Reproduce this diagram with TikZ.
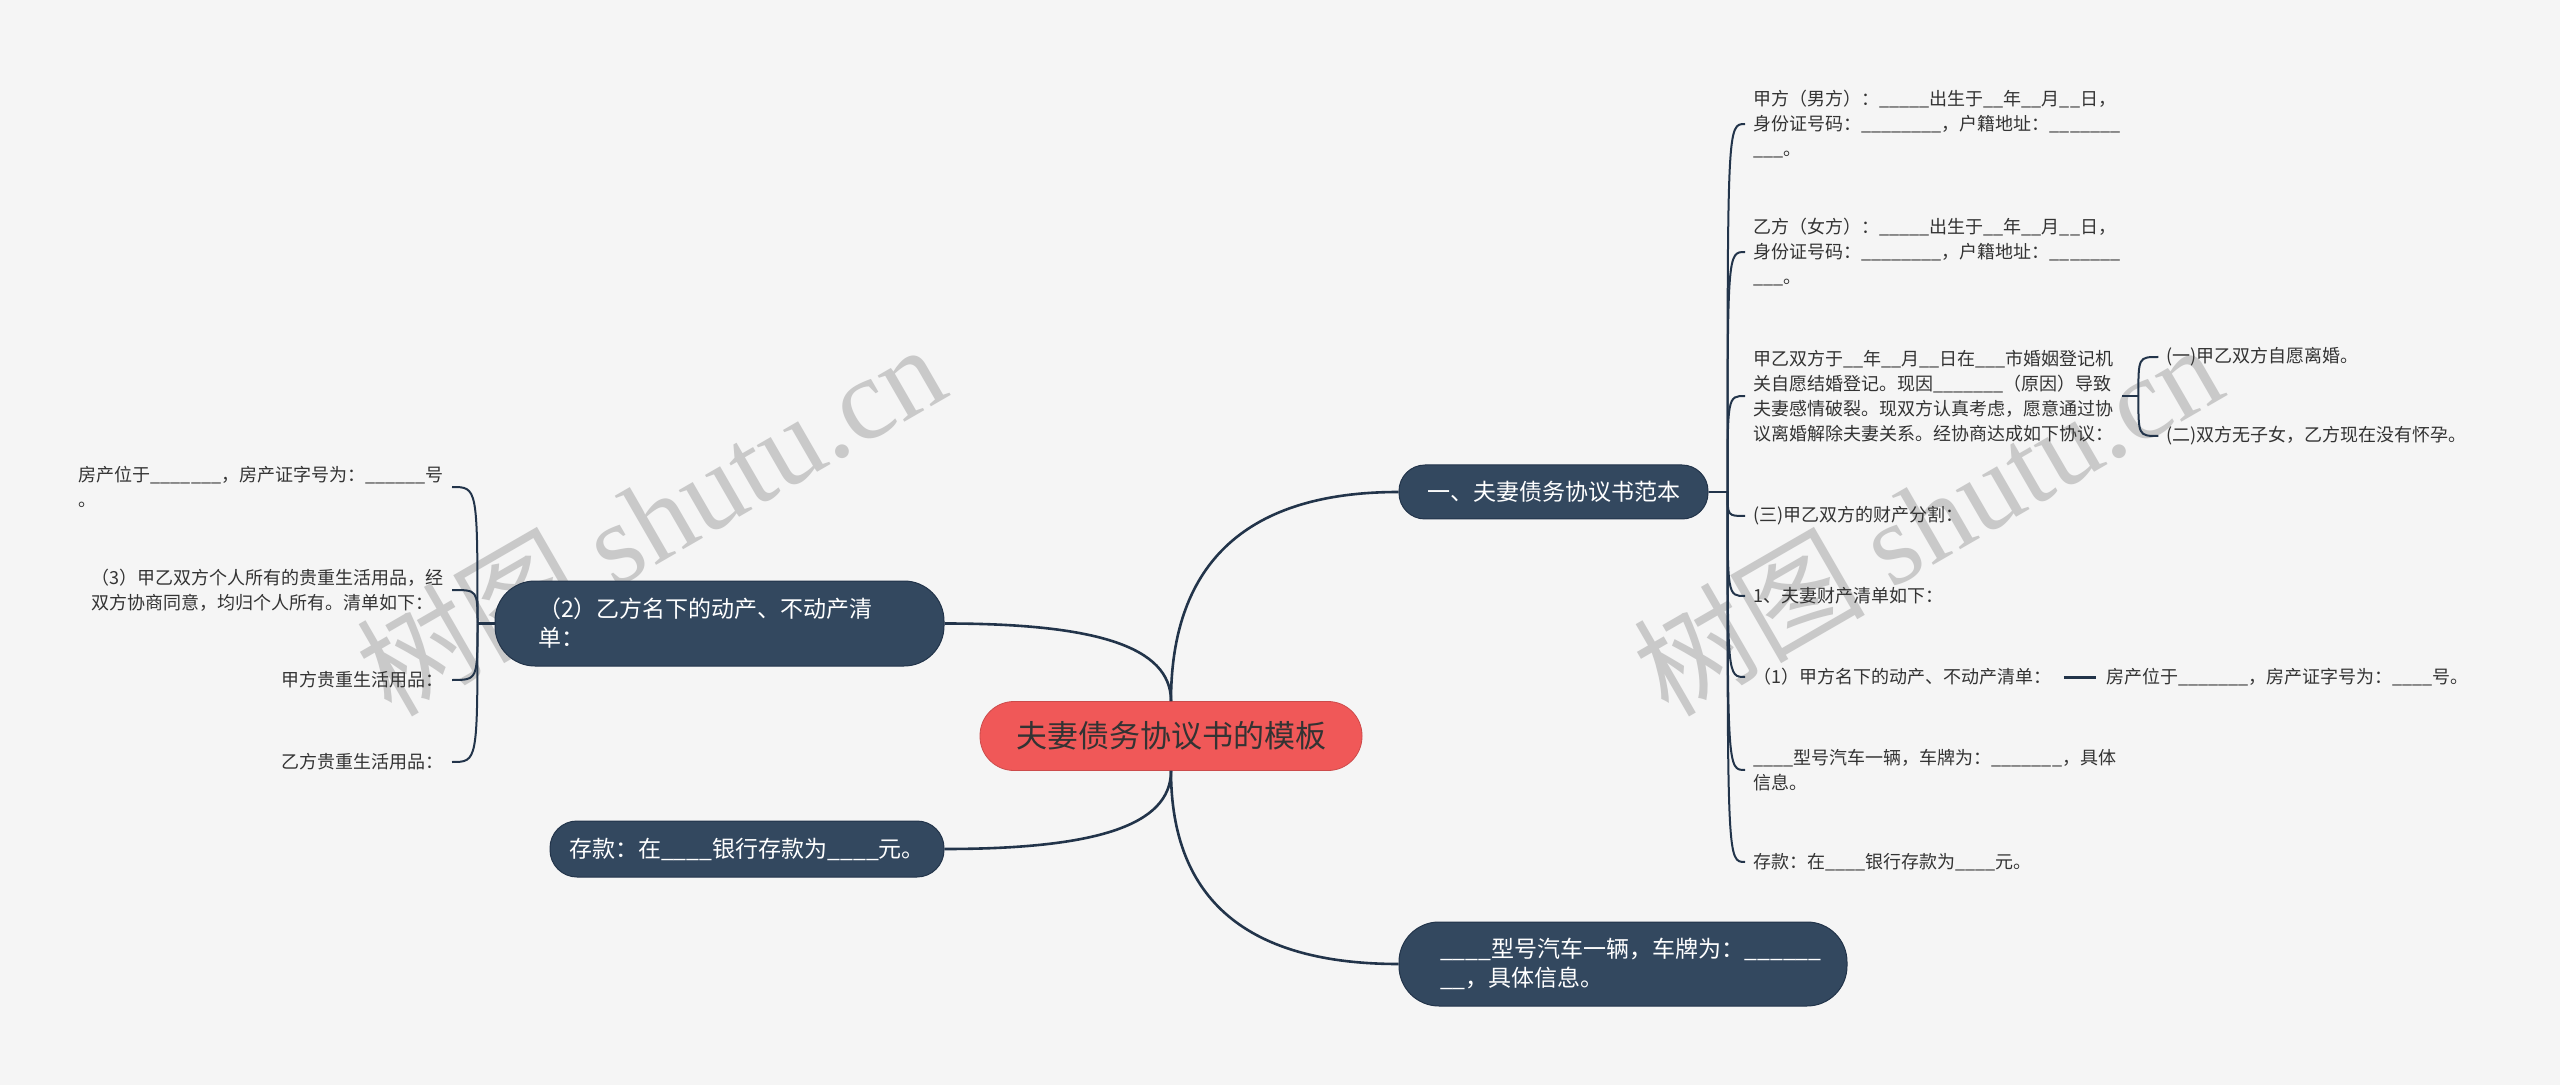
\documentclass[tikz,border=0pt]{standalone}
\usepackage{fontspec}
\setmainfont{Noto Sans CJK SC}
\newfontfamily\xifont{Liberation Serif}
\usetikzlibrary{positioning}
\definecolor{beijing}{HTML}{F5F5F5}
\definecolor{shenlan}{HTML}{33485F}
\definecolor{xianse}{HTML}{22344A}
\definecolor{hongse}{HTML}{F05858}
\definecolor{wenzi}{HTML}{333333}

\begin{document}
\begin{tikzpicture}[x=0.5pt,y=-0.5pt,
    zhuti/.style={fill=shenlan, draw=xianse, line width=0.5pt, text=white,
      font=\fontsize{11.5}{14.5}\selectfont, rounded corners=13pt,
      minimum height=27pt, align=left},
    yezi/.style={text=wenzi, font=\fontsize{9}{12.5}\selectfont,
      inner xsep=4pt, inner ysep=3pt, align=left},
    cuxian/.style={draw=xianse, line width=1.3pt},
    xixian/.style={draw=xianse, line width=1pt},
    shuiyin/.style={text=gray!42, rotate=30, font=\fontsize{58}{58}\selectfont}]
    % 背景
    \fill[beijing] (0,0) rectangle (2560,1085);
    \useasboundingbox (0,0) rectangle (2560,1085);
    % 水印
    \node[shuiyin] (sy1) at (650,518) {树图 {\xifont shutu.cn}};
    \node[shuiyin] (sy2) at (1927,518) {树图 {\xifont shutu.cn}};
    % 中心主题
    \node[fill=hongse, draw=hongse!85!black, text=wenzi, rounded corners=17pt,
      minimum width=191pt, minimum height=34.5pt,
      font=\fontsize{15.5}{18}\selectfont] (zhongxin) at (1171,736) {夫妻债务协议书的模板};
    % 分支主题
    \node[zhuti, minimum width=154.5pt] (fz1) at (1553.5,492) {一、夫妻债务协议书范本};
    \node[zhuti, rounded corners=20pt, minimum height=42.5pt, text width=181.5pt,
      inner xsep=21.5pt] (fz2) at (719.5,623.5) {（2）乙方名下的动产、不动产清\\单：};
    \node[zhuti, rounded corners=13.5pt, minimum width=197pt, minimum height=28pt]
      (fz3) at (747,849) {存款：在\_\_\_\_银行存款为\_\_\_\_元。};
    \node[zhuti, rounded corners=20pt, minimum height=42pt, text width=183pt,
      inner xsep=20.5pt] (fz4) at (1623,964)
      {\_\_\_\_型号汽车一辆，车牌为：\_\_\_\_\_\_\\\_\_，具体信息。};
    % 中心到分支
    \draw[cuxian] (zhongxin.north) .. controls +(0,-140) and +(-150,0) .. (fz1.west);
    \draw[cuxian] (zhongxin.north) .. controls +(0,-55) and +(150,0) .. (fz2.east);
    \draw[cuxian] (zhongxin.south) .. controls +(0,55) and +(150,0) .. (fz3.east);
    \draw[cuxian] (zhongxin.south) .. controls +(0,130) and +(-150,0) .. (fz4.west);
    % 右侧子主题
    \node[yezi, anchor=west] (you1) at (1745,124)
      {甲方（男方）：\_\_\_\_\_出生于\_\_年\_\_月\_\_日，\\身份证号码：\_\_\_\_\_\_\_\_，户籍地址：\_\_\_\_\_\_\_\\\_\_\_。};
    \node[yezi, anchor=west] (you2) at (1745,252)
      {乙方（女方）：\_\_\_\_\_出生于\_\_年\_\_月\_\_日，\\身份证号码：\_\_\_\_\_\_\_\_，户籍地址：\_\_\_\_\_\_\_\\\_\_\_。};
    \node[yezi, anchor=west] (you3) at (1745,396)
      {甲乙双方于\_\_年\_\_月\_\_日在\_\_\_市婚姻登记机\\关自愿结婚登记。现因\_\_\_\_\_\_\_（原因）导致\\夫妻感情破裂。现双方认真考虑，愿意通过协\\议离婚解除夫妻关系。经协商达成如下协议：};
    \node[yezi, anchor=west] (you4) at (1745,516) {(三)甲乙双方的财产分割：};
    \node[yezi, anchor=west] (you5) at (1745,596) {1、夫妻财产清单如下：};
    \node[yezi, anchor=west] (you6) at (1745,677) {（1）甲方名下的动产、不动产清单：};
    \node[yezi, anchor=west] (you7) at (1745,770)
      {\_\_\_\_型号汽车一辆，车牌为：\_\_\_\_\_\_\_，具体\\信息。};
    \node[yezi, anchor=west] (you8) at (1745,862) {存款：在\_\_\_\_银行存款为\_\_\_\_元。};
    \coordinate[right=9.5pt of fz1.east] (youjie);
    \draw[cuxian] (fz1.east) -- (youjie);
    \foreach \n in {you1,you2,you3,you4,you5,you6,you7,you8}
      \draw[xixian] (youjie) .. controls (youjie |- \n.west) .. (\n.west);
    % 协议内容
    \coordinate[right=8pt of you3.east] (sanjie);
    \node[yezi, above right=19.5pt and 10pt of sanjie, anchor=west] (san1) {(一)甲乙双方自愿离婚。};
    \node[yezi, below right=20pt and 10pt of sanjie, anchor=west] (san2) {(二)双方无子女，乙方现在没有怀孕。};
    \draw[xixian] (you3.east) -- (sanjie);
    \draw[xixian] (sanjie) .. controls (sanjie |- san1.west) .. (san1.west);
    \draw[xixian] (sanjie) .. controls (sanjie |- san2.west) .. (san2.west);
    % 甲方房产
    \node[yezi, right=19pt of you6] (fangchan) {房产位于\_\_\_\_\_\_\_，房产证字号为：\_\_\_\_号。};
    \draw[cuxian, line width=1.5pt, shorten <=2pt, shorten >=1pt] (you6) -- (fangchan);
    % 左侧子主题
    \node[yezi, anchor=east] (zuo1) at (452,487)
      {房产位于\_\_\_\_\_\_\_，房产证字号为：\_\_\_\_\_\_号\\。};
    \node[yezi, anchor=east] (zuo2) at (452,590)
      {（3）甲乙双方个人所有的贵重生活用品，经\\双方协商同意，均归个人所有。清单如下：};
    \node[yezi, anchor=east] (zuo3) at (452,680) {甲方贵重生活用品：};
    \node[yezi, anchor=east] (zuo4) at (452,762) {乙方贵重生活用品：};
    \coordinate[left=8.5pt of fz2.west] (zuojie);
    \draw[cuxian] (fz2.west) -- (zuojie);
    \foreach \n in {zuo1,zuo2,zuo3,zuo4}
      \draw[xixian] (zuojie) .. controls (zuojie |- \n.east) .. (\n.east);
\end{tikzpicture}
\end{document}
